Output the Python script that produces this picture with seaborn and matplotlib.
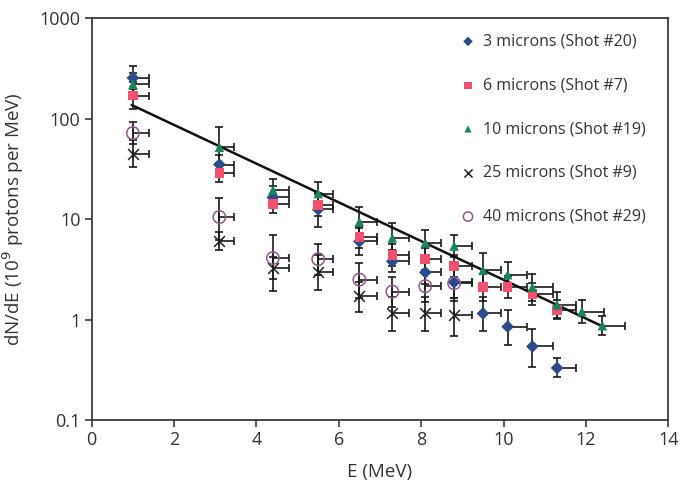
import numpy as np
import pandas as pd
import matplotlib
matplotlib.use("Agg")
import matplotlib.pyplot as plt
import matplotlib.ticker as mticker
import seaborn as sns

# Proton spectra for different target thicknesses
E_all = [1.0, 3.1, 4.4, 5.5, 6.5, 7.3, 8.1, 8.8, 9.5, 10.1, 10.7, 11.3, 11.9, 12.4]
E_bin_err = [0.40, 0.35, 0.38, 0.37, 0.42, 0.40, 0.38, 0.43, 0.44, 0.46, 0.50, 0.47, 0.55, 0.55]

y_3um = [255, 35, 16.5, 12.5, 6.0, 3.8, 2.95, 2.35, 1.15, 0.85, 0.54, 0.33]
y_6um = [170, 29, 14.2, 13.8, 6.6, 4.4, 4.0, 3.4, 2.1, 2.1, 1.8, 1.25]
y_10um = [220, 52, 19.5, 18.0, 9.4, 6.5, 5.8, 5.4, 3.1, 2.8, 2.1, 1.4, 1.2, 0.87]
y_25um = [45, 6.0, 3.25, 3.0, 1.7, 1.15, 1.15, 1.1]
y_40um = [72, 10.5, 4.1, 4.0, 2.5, 1.9, 2.15, 2.3]

# relative uncertainty on dN/dE
rel_3um = [0.30, 0.25, 0.30, 0.45, 0.35, 0.30, 0.30, 0.40, 0.45, 0.45, 0.50, 0.25]
rel_6um = [0.35, 0.25, 0.25, 0.30, 0.30, 0.30, 0.30, 0.30, 0.35, 0.30, 0.30, 0.25]
rel_10um = [0.30, 0.60, 0.30, 0.30, 0.40, 0.40, 0.35, 0.30, 0.50, 0.35, 0.35, 0.35, 0.30, 0.25]
rel_25um = [0.35, 0.25, 0.30, 0.45, 0.40, 0.45, 0.45, 0.50]
rel_40um = [0.30, 0.55, 0.70, 0.40, 0.45, 0.40, 0.40, 0.45]

labels = ["3 microns (Shot #20)", "6 microns (Shot #7)", "10 microns (Shot #19)",
          "25 microns (Shot #9)", "40 microns (Shot #29)"]

# exponential fit, straight on the log axis
fit_E = [0.97, 12.42]
fit_y = [137, 0.85]

sns.set_theme(style="ticks")
plt.rcParams["font.family"] = ["Open Sans", "DejaVu Sans"]

fig = plt.figure(figsize=(6.85, 4.92), dpi=100)
ax = fig.add_axes([0.1339, 0.1463, 0.8417, 0.8165])

series = [
    (y_3um, rel_3um, "D", "#2c4a8c", "#2c4a8c", 42, 0),
    (y_6um, rel_6um, "s", "#f2506e", "#f2506e", 48, 0),
    (y_10um, rel_10um, "^", "#17875a", "#17875a", 48, 0),
    (y_25um, rel_25um, "x", "#222222", "#222222", 60, 1.1),
    (y_40um, rel_40um, "o", "none", "#8c5a86", 80, 1.1),
]

for ys, rel, m, fc, ec, s, lw in series:
    n = len(ys)
    e = np.array(E_all[:n])
    y = np.array(ys)
    r = np.array(rel)
    ax.errorbar(e, y, yerr=[y * r * 0.75, y * r], xerr=[np.zeros(n), E_bin_err[:n]],
                fmt="none", ecolor="#1a1a1a", elinewidth=1.2, capsize=3, capthick=1.2,
                zorder=2)

ax.plot(fit_E, fit_y, color="#111111", lw=1.8, zorder=3)

for (ys, rel, m, fc, ec, s, lw), lab in zip(series, labels):
    n = len(ys)
    df = pd.DataFrame({"E": E_all[:n], "dNdE": ys})
    if m == "o":
        sns.scatterplot(data=df, x="E", y="dNdE", ax=ax, marker=m, s=s,
                        facecolors="none", edgecolor=ec, linewidth=lw, label=lab, zorder=4)
    elif m == "x":
        sns.scatterplot(data=df, x="E", y="dNdE", ax=ax, marker=m, s=s,
                        color=ec, linewidth=lw, label=lab, zorder=4)
    else:
        sns.scatterplot(data=df, x="E", y="dNdE", ax=ax, marker=m, s=s,
                        color=fc, edgecolor="none", linewidth=0, label=lab, zorder=4)

ax.set_yscale("log")
ax.set_xlim(0, 14)
ax.set_ylim(0.1, 1000)
ax.set_xticks(range(0, 15, 2))
ax.set_yticks([0.1, 1, 10, 100, 1000])
ax.yaxis.set_major_formatter(mticker.FuncFormatter(lambda v, p: f"{v:g}"))
ax.yaxis.set_minor_locator(mticker.NullLocator())

for sp in ax.spines.values():
    sp.set_color("#3a3a3a")
    sp.set_linewidth(1.3)
ax.tick_params(axis="both", which="major", direction="out", length=5, width=1.2,
               color="#3a3a3a", labelsize=13, labelcolor="#333333", pad=3)
ax.tick_params(top=False, right=False)

ax.set_xlabel("E (MeV)", fontsize=13.5, color="#333333", labelpad=10)
ax.set_ylabel("dN/dE (10$^{9}$ protons per MeV)", fontsize=13.5, color="#333333", labelpad=10)

leg = ax.legend(loc="upper left", bbox_to_anchor=(0.636, 0.962), frameon=False,
                fontsize=11.5, labelspacing=1.74, handletextpad=0.35, handlelength=1.2,
                markerscale=0.75, borderaxespad=0, borderpad=0)
for t in leg.get_texts():
    t.set_color("#333333")

fig.savefig("out.png", dpi=100)
